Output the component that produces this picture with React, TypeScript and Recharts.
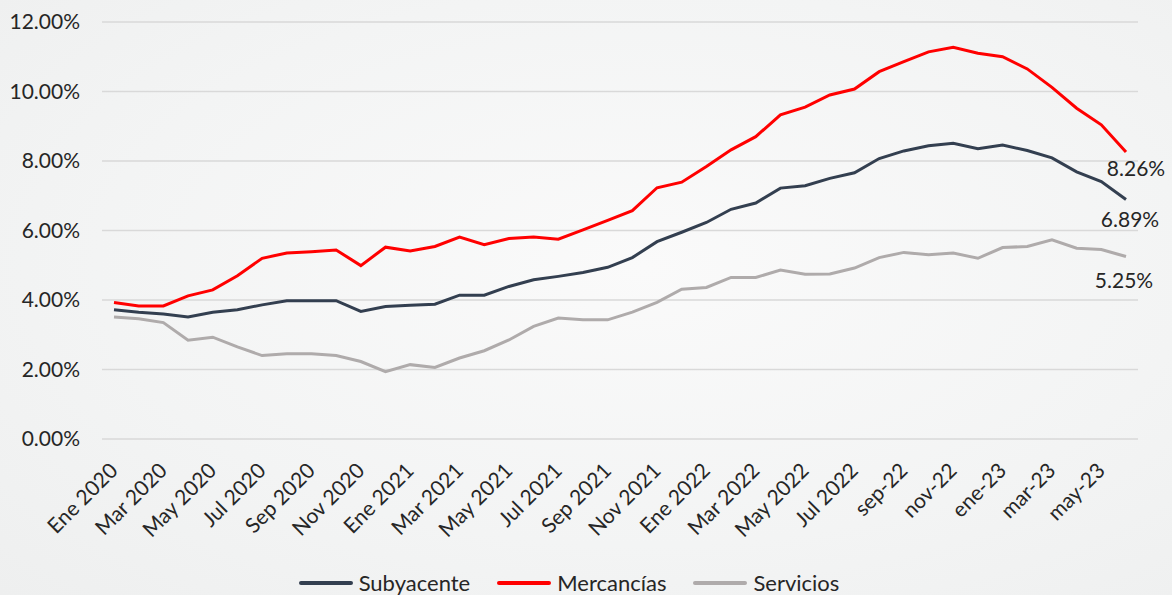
import { CartesianGrid, Legend, Line, LineChart, XAxis, YAxis } from 'recharts'

const months = [
  'Ene 2020', 'Feb 2020', 'Mar 2020', 'Abr 2020', 'May 2020', 'Jun 2020', 'Jul 2020', 'Ago 2020', 'Sep 2020', 'Oct 2020', 'Nov 2020', 'Dic 2020',
  'Ene 2021', 'Feb 2021', 'Mar 2021', 'Abr 2021', 'May 2021', 'Jun 2021', 'Jul 2021', 'Ago 2021', 'Sep 2021', 'Oct 2021', 'Nov 2021', 'Dic 2021',
  'Ene 2022', 'Feb 2022', 'Mar 2022', 'Abr 2022', 'May 2022', 'Jun 2022', 'Jul 2022', 'Ago 2022', 'sep-22', 'oct-22', 'nov-22', 'dic-22',
  'ene-23', 'feb-23', 'mar-23', 'abr-23', 'may-23', 'jun-23',
]

const subyacente = [
  3.72, 3.65, 3.6, 3.51, 3.65, 3.72, 3.86, 3.98, 3.98, 3.98, 3.67, 3.81,
  3.85, 3.88, 4.14, 4.14, 4.39, 4.58, 4.68, 4.79, 4.94, 5.22, 5.68, 5.95,
  6.23, 6.61, 6.79, 7.22, 7.29, 7.5, 7.66, 8.07, 8.29, 8.44, 8.51, 8.35,
  8.46, 8.3, 8.09, 7.69, 7.41, 6.89,
]

const mercancias = [
  3.93, 3.83, 3.83, 4.12, 4.29, 4.7, 5.2, 5.35, 5.39, 5.44, 4.99, 5.52,
  5.41, 5.54, 5.81, 5.59, 5.77, 5.81, 5.75, 6.02, 6.29, 6.57, 7.23, 7.39,
  7.84, 8.32, 8.7, 9.33, 9.55, 9.9, 10.07, 10.57, 10.86, 11.14, 11.27, 11.1,
  11.0, 10.65, 10.12, 9.52, 9.04, 8.26,
]

const servicios = [
  3.51, 3.46, 3.35, 2.84, 2.93, 2.65, 2.4, 2.45, 2.45, 2.4, 2.23, 1.94,
  2.14, 2.06, 2.33, 2.54, 2.85, 3.24, 3.48, 3.43, 3.43, 3.65, 3.93, 4.31,
  4.36, 4.65, 4.65, 4.86, 4.74, 4.75, 4.92, 5.22, 5.37, 5.3, 5.35, 5.2,
  5.51, 5.54, 5.73, 5.49, 5.45, 5.25,
]

const yTicks = [0, 2, 4, 6, 8, 10, 12]

const seriesNames = ['Subyacente', 'Mercancías', 'Servicios']
const seriesColors = ['#333f50', '#ff0000', '#afabab']

const data = months.map((month, i) => ({
  month,
  subyacente: subyacente[i],
  mercancias: mercancias[i],
  servicios: servicios[i],
}))

const FONT = 'Lato, "Open Sans", sans-serif'
const TEXT = '#262626'
const lastIdx = months.length - 1

const XTick = ({ x, y, payload }: any) => (
  <g transform={`translate(${x + 5},${y + 25})`}>
    <text textAnchor="end" transform="rotate(-45)" fill={TEXT} fontSize={21} fontFamily={FONT}>
      {payload.value}
    </text>
  </g>
)

// only the last point of each series gets its value printed
const endLabel = (dx: number, dy: number) => (props: any) => {
  const { x, y, index, value } = props
  if (index !== lastIdx) return null
  return (
    <text x={x + dx} y={y + dy} fill={TEXT} fontSize={21} fontFamily={FONT} textAnchor="middle">
      {Number(value).toFixed(2)}%
    </text>
  )
}

const LegendContent = () => (
  <div
    style={{
      display: 'flex',
      justifyContent: 'center',
      gap: 27,
      height: 30,
      paddingTop: 5,
      boxSizing: 'border-box',
      fontFamily: FONT,
      fontSize: 22,
      lineHeight: '25px',
      color: TEXT,
    }}
  >
    {seriesNames.map((name, i) => (
      <div key={name} style={{ display: 'flex', alignItems: 'center' }}>
        <span style={{ display: 'inline-block', width: 54, height: 4, borderRadius: 2, background: seriesColors[i], marginRight: 6 }} />
        <span>{name}</span>
      </div>
    ))}
  </div>
)

export default function App() {
  return (
    <div
      style={{
        position: 'absolute',
        left: 0,
        top: 0,
        width: 1172,
        height: 595,
        background: 'radial-gradient(ellipse at 55% 45%, #fafafa 0%, #f3f4f4 60%, #eeefef 100%)',
      }}
    >
      <LineChart width={1172} height={595} data={data} margin={{ top: 22, right: 34, bottom: 0, left: 0 }}>
        <CartesianGrid vertical={false} stroke="#d9d9d9" strokeWidth={1.5} />
        <XAxis
          dataKey="month"
          interval={1}
          tick={<XTick />}
          tickLine={false}
          axisLine={false}
          height={126}
          padding={{ left: 12, right: 12 }}
        />
        <YAxis
          domain={[0, 12]}
          ticks={yTicks}
          width={102}
          tickLine={false}
          axisLine={false}
          tickSize={0}
          tickMargin={22}
          tickFormatter={(v) => `${Number(v).toFixed(2)}%`}
          tick={{ fontSize: 21, fill: TEXT, fontFamily: FONT }}
        />
        <Legend verticalAlign="bottom" content={<LegendContent />} />
        <Line
          dataKey="subyacente"
          name="Subyacente"
          stroke={seriesColors[0]}
          strokeWidth={3}
          dot={false}
          isAnimationActive={false}
          label={endLabel(4, 27)}
        />
        <Line
          dataKey="mercancias"
          name="Mercancías"
          stroke={seriesColors[1]}
          strokeWidth={3}
          dot={false}
          isAnimationActive={false}
          label={endLabel(10, 24)}
        />
        <Line
          dataKey="servicios"
          name="Servicios"
          stroke={seriesColors[2]}
          strokeWidth={3}
          dot={false}
          isAnimationActive={false}
          label={endLabel(-2, 31)}
        />
      </LineChart>
    </div>
  )
}
